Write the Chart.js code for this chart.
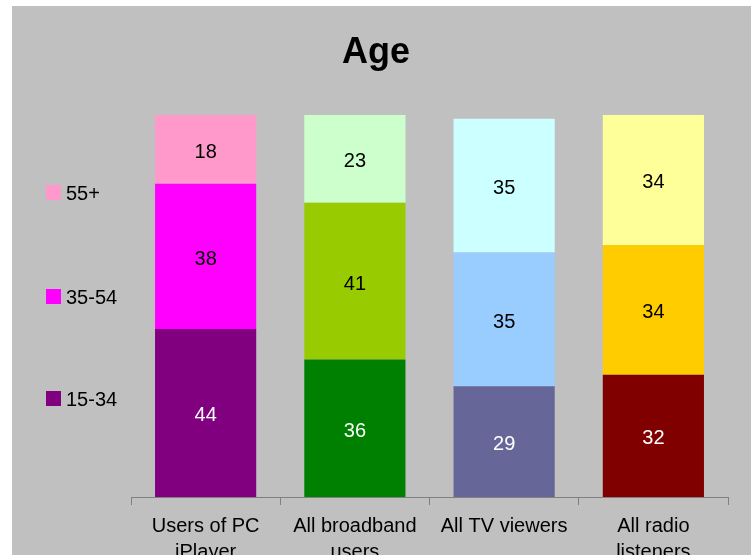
<!DOCTYPE html>
<html>
<head>
<meta charset="utf-8">
<script src="https://cdn.jsdelivr.net/npm/chart.js@4.4.1/dist/chart.umd.min.js"></script>
<style>
	html, body { margin: 0; padding: 0; background: #ffffff; }
	#wrap { position: relative; width: 751px; height: 555px; }
</style>
</head>
<body>
<div id="wrap"><canvas id="age_chart" width="751" height="555"></canvas></div>
<script>
// chart data
const categories = [['Users of PC', 'iPlayer'], ['All broadband', 'users'], 'All TV viewers', ['All radio', 'listeners']];
const series_names = ['15-34', '35-54', '55+'];
const age_15_34 = [44, 36, 29, 32];
const age_35_54 = [38, 41, 35, 34];
const age_55_plus = [18, 23, 35, 34];
const y_max = 100;

const colors_15_34 = ['#800080', '#008000', '#666699', '#800000'];
const colors_35_54 = ['#ff00ff', '#99cc00', '#99ccff', '#ffcc00'];
const colors_55_plus = ['#ff99cc', '#ccffcc', '#ccffff', '#ffff99'];
const label_colors = ['#ffffff', '#000000', '#000000'];

const font_family = "'Liberation Sans', Arial, sans-serif";

// grey panel, title and left legend
const chart_frame = {
	id: 'chart_frame',
	beforeDraw(chart) {
		const ctx = chart.ctx;
		ctx.save();
		ctx.fillStyle = '#c0c0c0';
		ctx.fillRect(12, 6, chart.width - 12, chart.height - 6);
		ctx.restore();
	},
	afterDraw(chart) {
		const ctx = chart.ctx;
		ctx.save();
		ctx.fillStyle = '#000000';
		ctx.textAlign = 'center';
		ctx.textBaseline = 'alphabetic';
		ctx.font = 'bold 36px ' + font_family;
		ctx.fillText('Age', 376, 63);

		// legend, top item first
		const baselines = [406, 304, 200];
		ctx.font = '20px ' + font_family;
		ctx.textAlign = 'left';
		chart.data.datasets.forEach(function (ds, i) {
			ctx.fillStyle = ds.backgroundColor[0];
			ctx.fillRect(46, baselines[i] - 15, 15, 15);
			ctx.fillStyle = '#000000';
			ctx.fillText(ds.label, 66, baselines[i]);
		});
		ctx.restore();
	}
};

// value labels in the middle of every segment
const segment_labels = {
	id: 'segment_labels',
	afterDatasetsDraw(chart) {
		const ctx = chart.ctx;
		ctx.save();
		ctx.font = '20px ' + font_family;
		ctx.textAlign = 'center';
		ctx.textBaseline = 'middle';
		chart.data.datasets.forEach(function (ds, i) {
			const meta = chart.getDatasetMeta(i);
			ctx.fillStyle = label_colors[i];
			meta.data.forEach(function (bar, j) {
				ctx.fillText(String(ds.data[j]), bar.x, (bar.y + bar.base) / 2 + 3);
			});
		});
		ctx.restore();
	}
};

const age_chart = new Chart(
	document.getElementById('age_chart').getContext('2d'),
	{
		type: 'bar',
		data: {
			labels: categories,
			datasets: [
				{ label: series_names[0], data: age_15_34, backgroundColor: colors_15_34 },
				{ label: series_names[1], data: age_35_54, backgroundColor: colors_35_54 },
				{ label: series_names[2], data: age_55_plus, backgroundColor: colors_55_plus }
			]
		},
		options: {
			responsive: false,
			animation: false,
			devicePixelRatio: 1,
			barPercentage: 0.678,
			categoryPercentage: 1,
			layout: {
				padding: { left: 131, right: 23, top: 115, bottom: 0 }
			},
			scales: {
				x: {
					stacked: true,
					afterFit: function (scale) { scale.height = 58; },
					border: { display: true, color: '#808080', width: 1 },
					grid: {
						display: true,
						offset: true,
						drawOnChartArea: false,
						drawTicks: true,
						tickLength: 8,
						color: '#808080'
					},
					ticks: {
						color: '#000000',
						padding: 8,
						maxRotation: 0,
						autoSkip: false,
						font: { family: font_family, size: 20, lineHeight: 1.3 }
					}
				},
				y: {
					stacked: true,
					display: false,
					min: 0,
					max: y_max
				}
			},
			plugins: {
				legend: { display: false },
				title: { display: false },
				tooltip: { enabled: false }
			}
		},
		plugins: [chart_frame, segment_labels]
	}
);
</script>
</body>
</html>
